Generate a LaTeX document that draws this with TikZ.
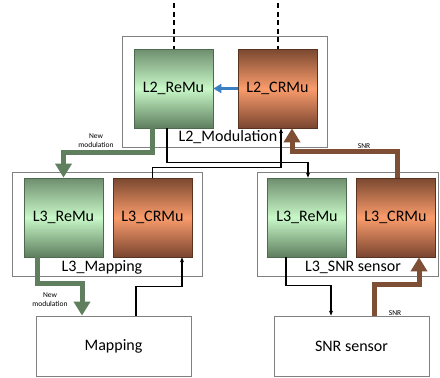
\documentclass[tikz,border=0pt]{standalone}
\usepackage{fontspec}
\setmainfont{Carlito}
\usetikzlibrary{arrows.meta}
\definecolor{gtop}{HTML}{6E8E6E}
\definecolor{gmid}{HTML}{C8F8C8}
\definecolor{gbot}{HTML}{5E7E5E}
\definecolor{gline}{HTML}{4E6A4E}
\definecolor{btop}{HTML}{7A4830}
\definecolor{bmid}{HTML}{FA9C6C}
\definecolor{bbot}{HTML}{7A4530}
\definecolor{bline}{HTML}{5A3220}
\definecolor{garrow}{HTML}{5F7F5F}
\definecolor{barrow}{HTML}{7F4F35}
\definecolor{blarrow}{HTML}{3A80C4}
\definecolor{frame}{HTML}{808080}
\tikzset{
  unit/.style={minimum width=79pt,minimum height=79pt,inner sep=0pt,font=\fontsize{16}{18}\selectfont},
  gbox/.style={unit,draw=gline,line width=0.7pt,top color=gtop,bottom color=gbot,middle color=gmid},
  bbox/.style={unit,draw=bline,line width=0.7pt,top color=btop,bottom color=bbot,middle color=bmid},
  plain/.style={draw=frame,line width=0.8pt,minimum width=155pt,minimum height=60pt,inner sep=0pt,font=\fontsize{16}{18}\selectfont},
  frm/.style={draw=frame,line width=0.8pt},
  flabel/.style={font=\fontsize{16}{18}\selectfont,inner sep=0pt},
  slabel/.style={font=\fontsize{7.5}{9}\selectfont,align=center,inner sep=0pt},
  gthick/.style={draw=garrow,line width=5pt,line join=miter,-{Triangle[width=16pt,length=14pt]}},
  bthick/.style={draw=barrow,line width=5pt,line join=miter,-{Triangle[width=16pt,length=14pt]}},
  thin/.style={draw=black,line width=1.1pt,-{Stealth[length=5pt,width=4pt]}},
  dashline/.style={draw=black,line width=2pt,dash pattern=on 5pt off 3.5pt},
}
\begin{document}
\begin{tikzpicture}[x=1pt,y=-1pt]
\useasboundingbox (0,0) rectangle (440,378);
% frames
\draw[frm] (122,36) rectangle (327,147);
\draw[frm] (12,172) rectangle (202,276);
\draw[frm] (257,172) rectangle (438,276);
\node[flabel] (lm) at (228,137) {L2\_Modulation};
\node[flabel] (lmap) at (102,267) {L3\_Mapping};
\node[flabel] (lsnr) at (353,267) {L3\_SNR sensor};
% unit boxes
\node[gbox] (l2re) at (173.5,88.5) {L2\_ReMu};
\node[bbox] (l2cr) at (277.5,88.5) {L2\_CRMu};
\node[gbox] (l3reA) at (63.5,217.5) {L3\_ReMu};
\node[bbox] (l3crA) at (152.5,217.5) {L3\_CRMu};
\node[gbox] (l3reB) at (307,217.5) {L3\_ReMu};
\node[bbox] (l3crB) at (395.5,217.5) {L3\_CRMu};
\node[plain] (map) at (113.5,346) {Mapping};
\node[plain] (snr) at (351.5,346) {SNR sensor};
% dashed inputs
\coordinate (t1) at (173.5,3);
\coordinate (t2) at (277.5,3);
\draw[dashline] (t1) -- (l2re.north);
\draw[dashline] (t2) -- (l2cr.north);
% blue arrow
\draw[draw=blarrow,line width=3pt,-{Triangle[width=9pt,length=8pt]}] (l2cr.west) -- (l2re.east);
% thin black connectors
\draw[thin] ([xshift=-6.5pt]l2re.south) -- ++(0,34) -| ([xshift=1pt]l3reB.north);
\draw[thin] (l3crA.north) -- ++(0,-10) -| ([xshift=3.5pt]l2cr.south);
\draw[thin] ([xshift=22.5pt]map.north) -- ++(0,-29) -| ([xshift=29.5pt]l3crA.south);
\draw[thin] ([xshift=-21pt]l3reB.south) -- ++(0,28) -| ([xshift=-20.5pt]snr.north);
% thick connectors
\draw[gthick] ([xshift=-21.5pt]l2re.south) -- ++(0,24) -| (l3reA.north);
\draw[bthick] ([xshift=1.5pt]l3crB.north) -- ++(0,-26) -| ([xshift=14.5pt]l2cr.south);
\draw[gthick] ([xshift=-26.5pt]l3reA.south) -- ++(0,26) -| ([xshift=-31.5pt]map.north);
\draw[bthick] ([xshift=22.5pt]snr.north) -- ++(0,-31) -| ([xshift=23.5pt]l3crB.south);
% small labels
\node[slabel] (nm1) at (96,141) {New\\modulation};
\node[slabel] (nm2) at (50,299.5) {New\\modulation};
\node[slabel] (s1) at (364,146) {SNR};
\node[slabel] (s2) at (395,313) {SNR};
\end{tikzpicture}
\end{document}
